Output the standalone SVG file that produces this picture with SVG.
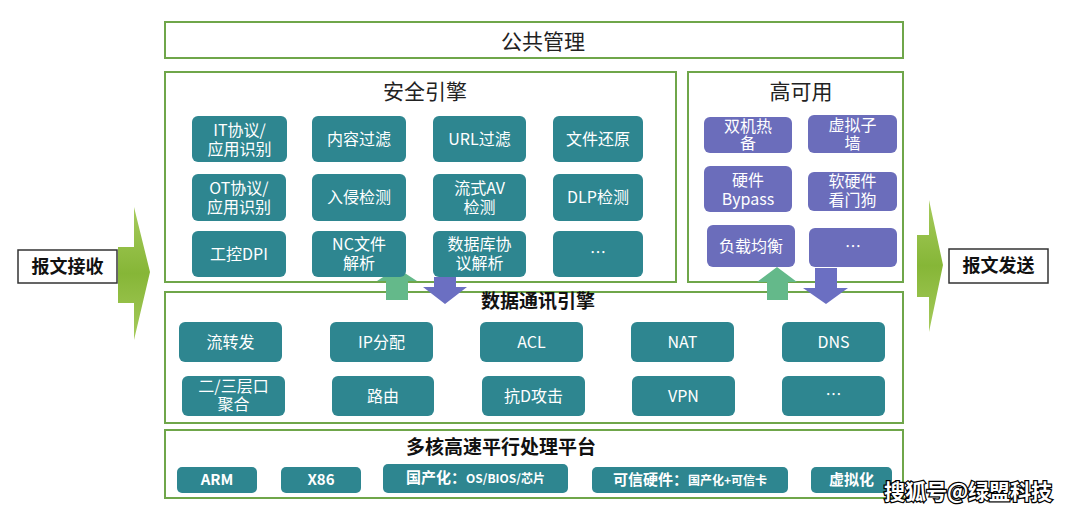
<svg xmlns="http://www.w3.org/2000/svg" width="1080" height="514" viewBox="0 0 1080 514">
<defs>
<style>
text{font-family:"Noto Sans CJK SC","Noto Sans",sans-serif;text-anchor:middle}
.panel{fill:#fff;stroke:#6FA64A;stroke-width:2}
.t{fill:#2E8690}
.p{fill:#6B6DBB}
.nt{fill:#fff;font-size:16px}
.pt{fill:#fff;font-size:15px;font-weight:bold}
.ps{font-size:12px}
.title{fill:#222;font-size:21px}
.btitle{fill:#111;font-size:19px;font-weight:bold}
.lbl{fill:#fff;stroke:#333;stroke-width:1.5}
.lt{fill:#111;font-size:18px;font-weight:bold}
.ga{fill:#64B98A}
.pa{fill:#6B6FC2}
.big{fill:url(#gg)}
</style>
<linearGradient id="gg" x1="0" y1="0" x2="0" y2="1">
<stop offset="0" stop-color="#A6CB5C"/>
<stop offset="0.5" stop-color="#86B637"/>
<stop offset="1" stop-color="#A6CB5C"/>
</linearGradient>
</defs>

<g id="panels">
<g id="public-mgmt"><rect class="panel" x="165" y="22" width="738" height="36"/><text class="title" x="543" y="49">公共管理</text></g>
<g id="security-engine"><rect class="panel" x="165" y="72" width="511" height="210"/><text class="title" x="425" y="99">安全引擎</text></g>
<g id="high-availability"><rect class="panel" x="688" y="72" width="215" height="210"/><text class="title" x="801" y="99">高可用</text></g>
<g id="data-comm-engine"><rect class="panel" x="165" y="292" width="738" height="131"/><text class="btitle" x="538" y="308">数据通讯引擎</text></g>
<g id="platform"><rect class="panel" x="165" y="430" width="738" height="68"/><text class="btitle" x="501" y="454">多核高速平行处理平台</text></g>
</g>

<g id="connectors">
<polygon class="big" points="118,247 134,247 134,207 150,272 134,340 134,303 118,303"/>
<polygon class="big" points="917,235 929,235 929,200 943,265 929,332 929,297 917,297"/>
<polygon class="ga" points="386,300 386,281 377,281 397,268 417,281 408,281 408,300"/>
<polygon class="pa" points="434,277 456,277 456,287 467,287 445,304 423,287 434,287"/>
<polygon class="ga" points="767,300 767,282 757,282 777,267 797,282 788,282 788,300"/>
<polygon class="pa" points="815,268 837,268 837,288 848,288 826,304 803,288 815,288"/>
</g>

<g id="recv"><rect class="lbl" x="18" y="250" width="99" height="33"/><text class="lt" x="67.5" y="273">报文接收</text></g>
<g id="send"><rect class="lbl" x="949" y="249" width="99" height="34"/><text class="lt" x="998.5" y="272">报文发送</text></g>

<g id="sec-nodes">
<g id="n-it"><rect class="t" x="192" y="116" width="95" height="46" rx="6"/><text class="nt" x="239.5" y="136">IT协议/<tspan x="239.5" dy="19">应用识别</tspan></text></g>
<g id="n-content"><rect class="t" x="312" y="116" width="94" height="46" rx="6"/><text class="nt" x="359" y="145">内容过滤</text></g>
<g id="n-url"><rect class="t" x="433" y="116" width="93" height="46" rx="6"/><text class="nt" x="479.5" y="145">URL过滤</text></g>
<g id="n-file"><rect class="t" x="553" y="116" width="90" height="46" rx="6"/><text class="nt" x="598" y="145">文件还原</text></g>
<g id="n-ot"><rect class="t" x="192" y="174" width="94" height="47" rx="6"/><text class="nt" x="239" y="194">OT协议/<tspan x="239" dy="19">应用识别</tspan></text></g>
<g id="n-ips"><rect class="t" x="312" y="174" width="94" height="47" rx="6"/><text class="nt" x="359" y="203">入侵检测</text></g>
<g id="n-av"><rect class="t" x="433" y="174" width="93" height="47" rx="6"/><text class="nt" x="479.5" y="194">流式AV<tspan x="479.5" dy="19">检测</tspan></text></g>
<g id="n-dlp"><rect class="t" x="553" y="174" width="90" height="47" rx="6"/><text class="nt" x="598" y="203">DLP检测</text></g>
<g id="n-dpi"><rect class="t" x="192" y="231" width="94" height="46" rx="6"/><text class="nt" x="239" y="260">工控DPI</text></g>
<g id="n-nc"><rect class="t" x="312" y="231" width="94" height="46" rx="6"/><text class="nt" x="359" y="250">NC文件<tspan x="359" dy="19">解析</tspan></text></g>
<g id="n-db"><rect class="t" x="433" y="231" width="93" height="46" rx="6"/><text class="nt" x="479.5" y="250">数据库协<tspan x="479.5" dy="19">议解析</tspan></text></g>
<g id="n-sec-more"><rect class="t" x="553" y="231" width="90" height="46" rx="6"/><text class="nt" x="598" y="258">…</text></g>
</g>

<g id="ha-nodes">
<g id="n-hot"><rect class="p" x="704" y="117" width="88" height="36" rx="6"/><text class="nt" x="748" y="132">双机热<tspan x="748" dy="17">备</tspan></text></g>
<g id="n-vsys"><rect class="p" x="808" y="115" width="89" height="38" rx="6"/><text class="nt" x="852.5" y="131">虚拟子<tspan x="852.5" dy="18">墙</tspan></text></g>
<g id="n-bypass"><rect class="p" x="704" y="166" width="88" height="46" rx="6"/><text class="nt" x="748" y="186">硬件<tspan x="748" dy="19">Bypass</tspan></text></g>
<g id="n-wdog"><rect class="p" x="808" y="172" width="89" height="39" rx="6"/><text class="nt" x="852.5" y="187">软硬件<tspan x="852.5" dy="19">看门狗</tspan></text></g>
<g id="n-lb"><rect class="p" x="707" y="225" width="88" height="42" rx="6"/><text class="nt" x="751" y="252">负载均衡</text></g>
<g id="n-ha-more"><rect class="p" x="809" y="228" width="88" height="39" rx="6"/><text class="nt" x="853" y="252">…</text></g>
</g>

<g id="dc-nodes">
<g id="n-fwd"><rect class="t" x="179" y="322" width="103" height="40" rx="6"/><text class="nt" x="230.5" y="348">流转发</text></g>
<g id="n-ip"><rect class="t" x="330" y="322" width="103" height="40" rx="6"/><text class="nt" x="381.5" y="348">IP分配</text></g>
<g id="n-acl"><rect class="t" x="480" y="322" width="103" height="40" rx="6"/><text class="nt" x="531.5" y="348">ACL</text></g>
<g id="n-nat"><rect class="t" x="631" y="322" width="103" height="40" rx="6"/><text class="nt" x="682.5" y="348">NAT</text></g>
<g id="n-dns"><rect class="t" x="782" y="322" width="103" height="40" rx="6"/><text class="nt" x="833.5" y="348">DNS</text></g>
<g id="n-agg"><rect class="t" x="182" y="376" width="103" height="40" rx="6"/><text class="nt" x="233.5" y="392">二/三层口<tspan x="233.5" dy="18">聚合</tspan></text></g>
<g id="n-route"><rect class="t" x="332" y="376" width="102" height="40" rx="6"/><text class="nt" x="383" y="402">路由</text></g>
<g id="n-ddos"><rect class="t" x="482" y="376" width="103" height="40" rx="6"/><text class="nt" x="533.5" y="402">抗D攻击</text></g>
<g id="n-vpn"><rect class="t" x="632" y="376" width="103" height="40" rx="6"/><text class="nt" x="683.5" y="402">VPN</text></g>
<g id="n-dc-more"><rect class="t" x="782" y="376" width="103" height="40" rx="6"/><text class="nt" x="833.5" y="400">…</text></g>
</g>

<g id="pf-nodes">
<g id="n-arm"><rect class="t" x="177" y="467" width="80" height="26" rx="5"/><text class="pt" x="217" y="485">ARM</text></g>
<g id="n-x86"><rect class="t" x="281" y="467" width="80" height="26" rx="5"/><text class="pt" x="321" y="485">X86</text></g>
<g id="n-cn"><rect class="t" x="383" y="464" width="185" height="29" rx="5"/><text class="pt" x="475.5" y="483">国产化：<tspan class="ps">OS/BIOS/芯片</tspan></text></g>
<g id="n-trust"><rect class="t" x="592" y="467" width="196" height="26" rx="5"/><text class="pt" x="690" y="485">可信硬件：<tspan class="ps">国产化+可信卡</tspan></text></g>
<g id="n-virt"><rect class="t" x="811" y="467" width="81" height="26" rx="5"/><text class="pt" x="851.5" y="485">虚拟化</text></g>
</g>

<text x="968" y="499" style="font-size:21px;fill:#fff;stroke:#000;stroke-width:2.5;paint-order:stroke;font-weight:bold">搜狐号@绿盟科技</text>
</svg>
